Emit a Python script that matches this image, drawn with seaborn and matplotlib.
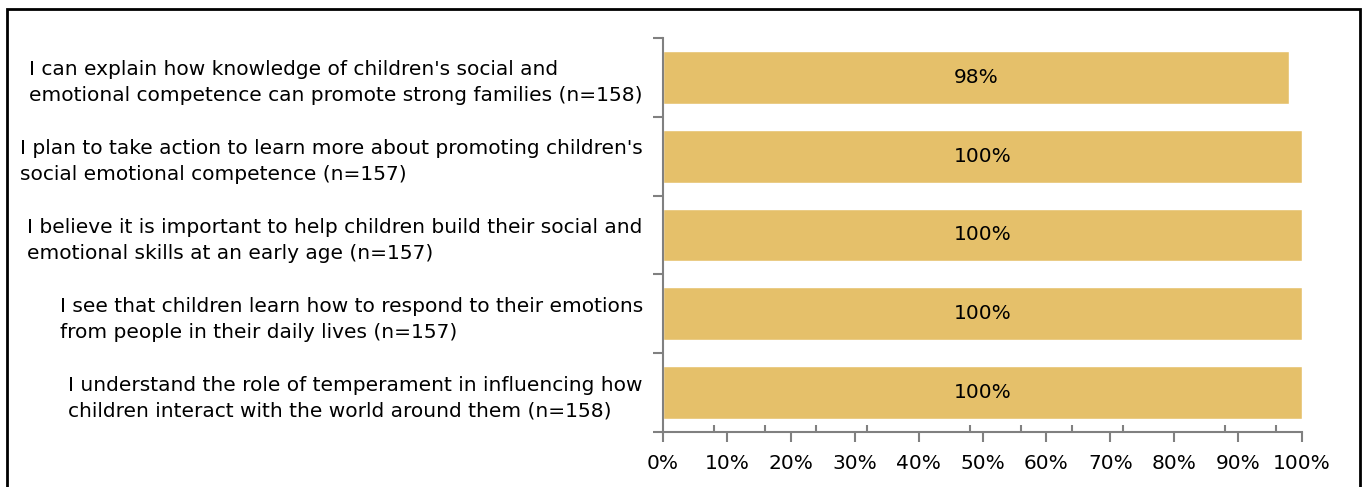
import numpy as np
import pandas as pd
import matplotlib
matplotlib.use('Agg')
import matplotlib.pyplot as plt
import seaborn as sns
from matplotlib.patches import Rectangle

# ── Data ──
statements = [
    "I can explain how knowledge of children's social and\nemotional competence can promote strong families (n=158)",
    "I plan to take action to learn more about promoting children's\nsocial emotional competence (n=157)",
    "I believe it is important to help children build their social and\nemotional skills at an early age (n=157)",
    "I see that children learn how to respond to their emotions\nfrom people in their daily lives (n=157)",
    "I understand the role of temperament in influencing how\nchildren interact with the world around them (n=158)",
]
percent_agree = [98, 100, 100, 100, 100]
x_ticks = list(range(0, 101, 10))

df = pd.DataFrame({'statement': statements, 'pct': percent_agree})

sns.set_theme(style='white')
plt.rcParams['font.family'] = ['DejaVu Sans']
plt.rcParams['text.color'] = 'black'
plt.rcParams['xtick.labelcolor'] = 'black'
plt.rcParams['ytick.labelcolor'] = 'black'

fig = plt.figure(figsize=(13.69, 4.87), dpi=100)
ax = fig.add_axes([663 / 1369, 1 - 432 / 487, (1302 - 663) / 1369, (432 - 38) / 487])

sns.barplot(data=df, x='pct', y='statement', orient='h', color='#E5C06A',
            saturation=1, width=0.67, ax=ax)

ax.bar_label(ax.containers[0], labels=[f'{v}%' for v in percent_agree],
             label_type='center', fontsize=14.5, color='black')

ax.set_xlim(0, 100)
ax.set_ylim(len(statements) - 0.5, -0.5)
ax.set_xticks(x_ticks)
ax.set_xticklabels([f'{t}%' for t in x_ticks], fontsize=14.5)
ax.set_xticks(np.arange(8, 100, 8), minor=True)
ax.set_xlabel('')
ax.set_ylabel('')

# y tick marks at category boundaries, labels in between
ax.set_yticks(np.arange(-0.5, len(statements), 1))
ax.set_yticklabels([])
ax.set_yticks(range(len(statements)), minor=True)
ax.set_yticklabels(statements, minor=True, fontsize=14.5)
for lbl in ax.get_yticklabels(minor=True):
    lbl.set_multialignment('left')
    lbl.set_linespacing(1.45)

axis_col = '#808080'
for side in ['top', 'right']:
    ax.spines[side].set_visible(False)
for side in ['left', 'bottom']:
    ax.spines[side].set_color(axis_col)
    ax.spines[side].set_linewidth(1.5)

ax.tick_params(axis='x', which='major', direction='out', length=7, width=1.5,
               color=axis_col, pad=9, bottom=True)
ax.tick_params(axis='x', which='minor', direction='in', length=5, width=1.5,
               color=axis_col, bottom=True)
ax.tick_params(axis='y', which='major', direction='out', length=7, width=1.5,
               color=axis_col, left=True)
ax.tick_params(axis='y', which='minor', length=0, pad=14.5)

# outer frame
fig.patches.append(Rectangle((7 / 1369, -0.05), (1360 - 7) / 1369, 1 - 9 / 487 + 0.05,
                             transform=fig.transFigure, fill=False,
                             edgecolor='black', linewidth=2))

fig.savefig('out.png', dpi=100)
